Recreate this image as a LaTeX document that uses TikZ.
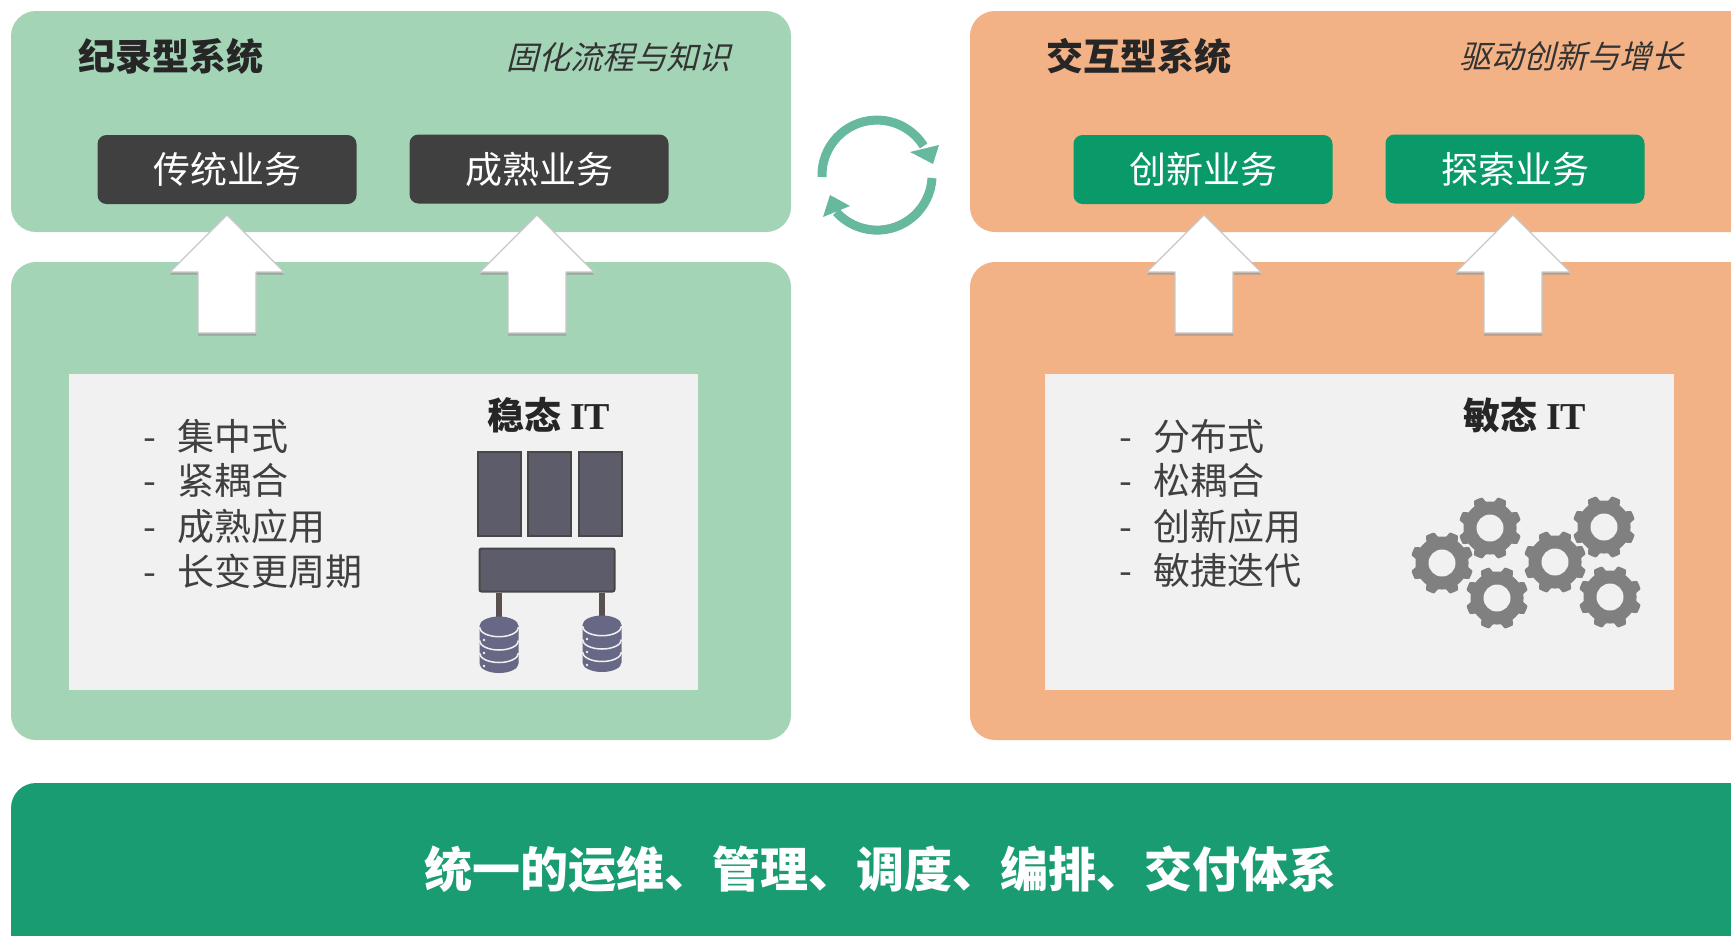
\documentclass[tikz,border=0pt]{standalone}
\usepackage{fontspec}
\setmainfont[AutoFakeSlant=0.25]{Noto Sans CJK SC}
\newfontfamily\itfont{Liberation Serif}
\usetikzlibrary{shadows}

\definecolor{panelgreen}{HTML}{A4D4B6}
\definecolor{panelorange}{HTML}{F3B286}
\definecolor{boxdark}{HTML}{404040}
\definecolor{boxgreen}{HTML}{0A9A6A}
\definecolor{bandgreen}{HTML}{1A9C73}
\definecolor{sheet}{HTML}{F1F1F1}
\definecolor{rackfill}{HTML}{5D5C6B}
\definecolor{dbfill}{HTML}{676885}
\definecolor{legcolor}{HTML}{5A5050}
\definecolor{cyclegreen}{HTML}{66B89F}

\tikzset{
  panelgreen/.style={fill=panelgreen, rounded corners=25pt},
  panelorange/.style={fill=panelorange, rounded corners=25pt},
  titletext/.style={text=black!85, inner sep=0pt, font=\fontsize{37}{37}\selectfont\bfseries},
  slogantext/.style={text=black!80, inner sep=0pt, font=\fontsize{32}{32}\selectfont\itshape},
  bizbox/.style={minimum width=259pt, minimum height=69pt, inner sep=0pt, rounded corners=9pt,
    text=white, font=\fontsize{37}{37}\selectfont},
  itemtext/.style={anchor=west, inner sep=0pt, text=black!75, font=\fontsize{37}{37}\selectfont},
  rackbox/.style={draw=black!72, line width=2pt, fill=rackfill, minimum width=43pt, minimum height=84pt, inner sep=0pt},
  uparrow/.style={fill=white, draw=black!22, line width=1.2pt, line join=round,
    drop shadow={shadow xshift=0pt, shadow yshift=-2.5pt, fill=black!45, opacity=.6}},
}

% block arrow, centre x given
\newcommand{\blockarrow}[1]{
  \path[uparrow] (#1,215) -- (#1+57,272) -- (#1+29,272) -- (#1+29,333) -- (#1-29,333) -- (#1-29,272) -- (#1-57,272) -- cycle;
}
% gear icon
\newcommand{\gearicon}[2]{
  \fill[black!50, shift={(#1,#2)}, domain=0:360, samples=181, variable=\t]
    plot ({min(31.5,max(26.5,28.5+7*cos(8*(\t-22.5))))*cos(\t)}, {min(31.5,max(26.5,28.5+7*cos(8*(\t-22.5))))*sin(\t)}) -- cycle;
  \fill[sheet] (#1,#2) circle[radius=13.5];
}
% database icon
\newcommand{\dbstack}[2]{
  \fill[dbfill] (#1-19.5,#2) -- (#1-19.5,#2+37.5) arc[start angle=180, end angle=360, x radius=19.5pt, y radius=9.5pt] -- (#1+19.5,#2) -- cycle;
  \fill[dbfill] (#1,#2) ellipse[x radius=19.5, y radius=9.5];
  \draw[sheet, line width=1.5pt] (#1-19.5,#2+1.2) arc[start angle=180, end angle=360, x radius=19.5pt, y radius=9.5pt];
  \draw[sheet, line width=1.5pt] (#1-19.5,#2+14.5) arc[start angle=180, end angle=360, x radius=19.5pt, y radius=9.5pt];
  \draw[sheet, line width=1.5pt] (#1-19.5,#2+27) arc[start angle=180, end angle=360, x radius=19.5pt, y radius=9.5pt];
  \fill[sheet] (#1-15,#2+14) circle[radius=1.3];
  \fill[sheet] (#1-15,#2+27) circle[radius=1.3];
  \fill[sheet] (#1-15,#2+40) circle[radius=1.3];
}

\begin{document}
\begin{tikzpicture}[x=1pt,y=-1pt]
\useasboundingbox (0,0) rectangle (1731,935);

% panels
\path[panelgreen] (11,11) rectangle (791,232);
\path[panelgreen] (11,262) rectangle (791,740);
\path[panelorange] (970,11) rectangle (1790,232);
\path[panelorange] (970,262) rectangle (1790,740);
\path[fill=bandgreen, rounded corners=25pt] (11,783) rectangle (1790,990);
\fill[sheet] (69,374) rectangle (698,690);
\fill[sheet] (1045,374) rectangle (1674,690);

% titles
\node[titletext] (recordtitle) at (171,56) {纪录型系统};
\node[slogantext] (recordslogan) at (618,57) {固化流程与知识};
\node[titletext] (engagetitle) at (1139,56) {交互型系统};
\node[slogantext] (engageslogan) at (1571,56) {驱动创新与增长};

% business boxes
\node[bizbox, fill=boxdark] (legacybiz) at (227,169.5) {传统业务};
\node[bizbox, fill=boxdark] (maturebiz) at (539,169) {成熟业务};
\node[bizbox, fill=boxgreen] (newbiz) at (1203,169.5) {创新业务};
\node[bizbox, fill=boxgreen] (explorebiz) at (1515,169) {探索业务};

\blockarrow{227}
\blockarrow{537}
\blockarrow{1204}
\blockarrow{1513}

% cycle sign
\draw[cyclegreen, line width=9pt] (822,177) arc[start angle=182, end angle=32, radius=55pt];
\fill[cyclegreen] (939,145) -- (910,152) -- (933,164) -- cycle;
\draw[cyclegreen, line width=9pt] (932,178) arc[start angle=-3, end angle=-138, radius=55pt];
\fill[cyclegreen] (830,195) -- (850,206) -- (823,217) -- cycle;

% stable side
\node[itemtext] (stable1) at (143,436) {-\hspace{21pt}集中式};
\node[itemtext] (stable2) at (143,480) {-\hspace{21pt}紧耦合};
\node[itemtext] (stable3) at (143,526) {-\hspace{21pt}成熟应用};
\node[itemtext] (stable4) at (143,571) {-\hspace{21pt}长变更周期};
\node[titletext] (stabletitle) at (549,415) {稳态 {\itfont\fontsize{38}{38}\selectfont IT}};

\node[rackbox] (rack1) at (499,493.5) {};
\node[rackbox] (rack2) at (549,493.5) {};
\node[rackbox] (rack3) at (600,493.5) {};
\node[rackbox, rounded corners=2pt, minimum width=135pt, minimum height=43pt] (controller) at (547,570) {};
\coordinate (dbleft) at (499,617);
\coordinate (dbright) at (602,616);
\draw[legcolor, line width=6pt] (controller.south -| dbleft) -- (dbleft);
\draw[legcolor, line width=6pt] (controller.south -| dbright) -- (dbright);
\dbstack{499}{626}
\dbstack{602}{625}

% agile side
\node[itemtext] (agile1) at (1119,436) {-\hspace{21pt}分布式};
\node[itemtext] (agile2) at (1119,480) {-\hspace{21pt}松耦合};
\node[itemtext] (agile3) at (1119,526) {-\hspace{21pt}创新应用};
\node[itemtext] (agile4) at (1119,571) {-\hspace{21pt}敏捷迭代};
\node[titletext] (agiletitle) at (1525,415) {敏态 {\itfont\fontsize{38}{38}\selectfont IT}};

\gearicon{1442}{563}
\gearicon{1490}{528}
\gearicon{1497}{598}
\gearicon{1555}{562}
\gearicon{1604}{527}
\gearicon{1610}{597}

% bottom band
\node[inner sep=0pt, text=white, font=\fontsize{48}{48}\selectfont\bfseries] (bandtext) at (880,869) {统一的运维、管理、调度、编排、交付体系};

\end{tikzpicture}
\end{document}
